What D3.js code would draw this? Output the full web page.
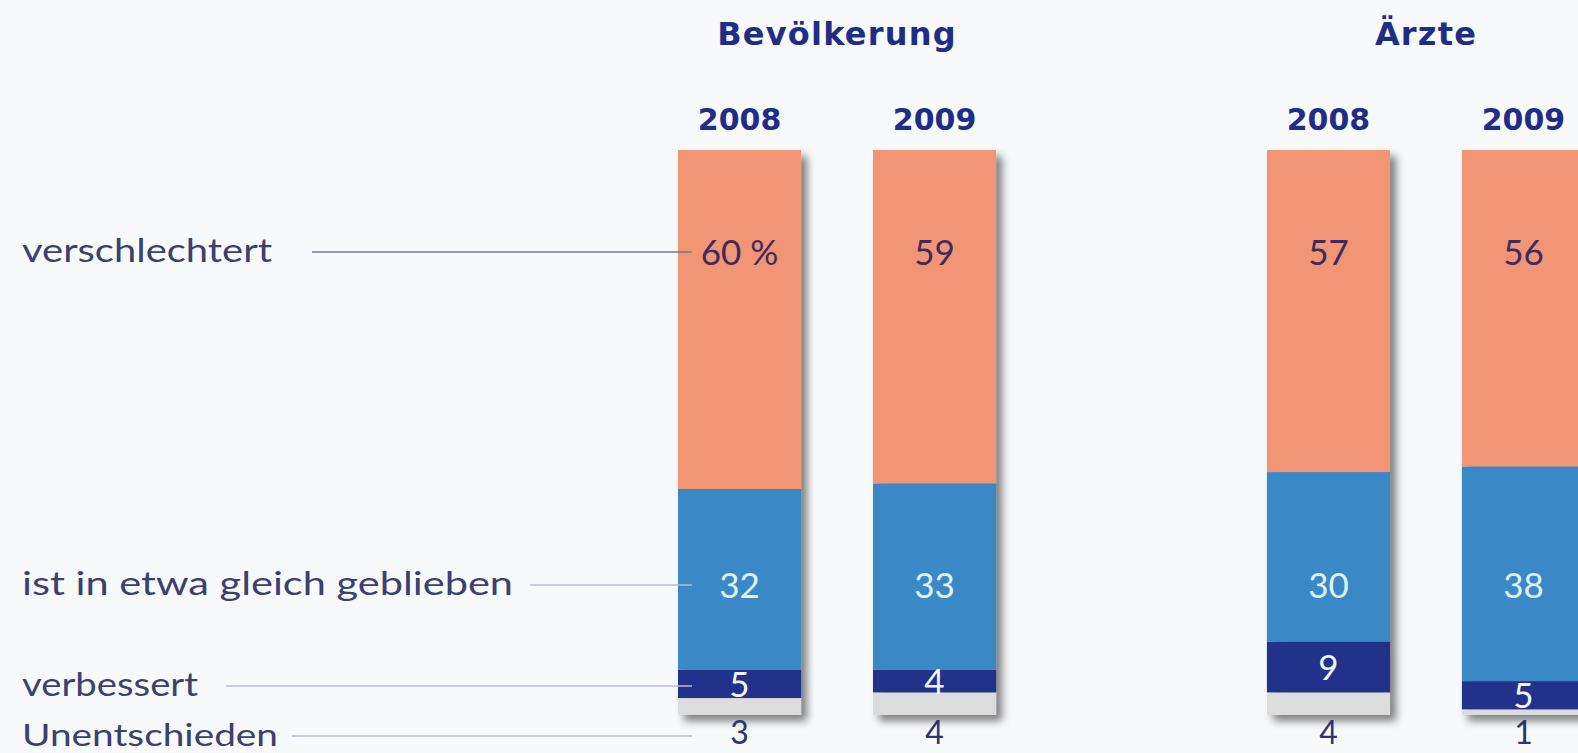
<!DOCTYPE html>
<html>
<head>
<meta charset="utf-8">
<script src="https://cdn.jsdelivr.net/npm/d3@7"></script>
<style>
  html, body { margin: 0; padding: 0; background: #f8f9fb; overflow: hidden; }
  svg { display: block; }
</style>
</head>
<body>
<svg id="chart" width="1578" height="753"></svg>
<script>
// ---- data ----
const groups = ["Bevölkerung", "Ärzte"];
const years = ["2008", "2009"];
const categories = ["verschlechtert", "ist in etwa gleich geblieben", "verbessert", "Unentschieden"];
const verschlechtert = [60, 59, 57, 56];
const gleichGeblieben = [32, 33, 30, 38];
const verbessert = [5, 4, 9, 5];
const unentschieden = [3, 4, 4, 1];
const valueLabelsFirst = ["60 %", null, null, null]; // first bar's top label carries the unit

// ---- build table ----
const bars = [];
let k = 0;
groups.forEach(g => years.forEach(y => {
  bars.push({ group: g, year: y, idx: k,
    verschlechtert: verschlechtert[k], gleich: gleichGeblieben[k],
    verbessert: verbessert[k], unentschieden: unentschieden[k] });
  k++;
}));

const W = 1578, H = 753;
const svg = d3.select("#chart");
svg.append("rect").attr("width", W).attr("height", H).attr("fill", "#f8f9fb");

const defs = svg.append("defs");
const f = defs.append("filter").attr("id", "shadow")
  .attr("x", "-20%").attr("y", "-10%").attr("width", "150%").attr("height", "130%");
f.append("feGaussianBlur").attr("in", "SourceAlpha").attr("stdDeviation", 4).attr("result", "b");
f.append("feOffset").attr("in", "b").attr("dx", 6).attr("dy", 6).attr("result", "o");
f.append("feComponentTransfer").attr("in", "o").attr("result", "oa")
  .append("feFuncA").attr("type", "linear").attr("slope", 0.5);
const fm = f.append("feMerge");
fm.append("feMergeNode").attr("in", "oa");
fm.append("feMergeNode").attr("in", "SourceGraphic");

// ---- scales ----
const xGroup = d3.scaleBand().domain(groups).range([678, 1585]).paddingInner(0.46).paddingOuter(0);
const xYear = d3.scaleBand().domain(years).range([0, xGroup.bandwidth()]).paddingInner(0.369).paddingOuter(0);
const y = d3.scaleLinear().domain([0, 100]).range([715, 150]);

const keys = ["unentschieden", "verbessert", "gleich", "verschlechtert"];
const colors = { verschlechtert: "#f19575", gleich: "#3a88c6", verbessert: "#22338a", unentschieden: "#dcdcdc" };
const stack = d3.stack().keys(keys)(bars);

const barX = d => xGroup(d.group) + xYear(d.year);
const bw = xYear.bandwidth();

// bars
const gBars = svg.append("g");
bars.forEach((b, i) => {
  const g = gBars.append("g").attr("filter", "url(#shadow)");
  stack.forEach(layer => {
    const s = layer[i];
    g.append("rect")
      .attr("x", barX(b)).attr("width", bw)
      .attr("y", y(s[1])).attr("height", y(s[0]) - y(s[1]))
      .attr("fill", colors[layer.key]);
  });
});

// row positions for labels (layout)
const rowY = [252, 585, 686, 736];
const lineStart = [312, 530, 226, 292];
const lineColor = ["#737892", "#b9bdcc", "#b9bdcc", "#b9bdcc"];

const fontLight = "'Lato', 'Open Sans', sans-serif";
const fontBold = "'DejaVu Sans', 'Lato', sans-serif";

// left category labels
const labelWidths = [250, 491, 176, 256];
categories.forEach((c, i) => {
  svg.append("text")
    .attr("x", 22).attr("y", rowY[i] + 10)
    .attr("font-family", fontLight).attr("font-weight", 400)
    .attr("font-size", i === 3 ? 30 : 32).attr("fill", "#3b406e")
    .attr("textLength", labelWidths[i]).attr("lengthAdjust", "spacingAndGlyphs")
    .text(c);
  svg.append("line")
    .attr("x1", lineStart[i]).attr("x2", 692)
    .attr("y1", rowY[i]).attr("y2", rowY[i])
    .attr("stroke", lineColor[i]).attr("stroke-width", 1.5);
});

// group titles
groups.forEach(g => {
  svg.append("text")
    .attr("x", xGroup(g) + xGroup.bandwidth() / 2).attr("y", 45)
    .attr("text-anchor", "middle")
    .attr("font-family", fontBold).attr("font-weight", 700)
    .attr("font-size", 32).attr("letter-spacing", 1.2).attr("fill", "#1f2d86")
    .text(g);
});

// year labels
bars.forEach(b => {
  svg.append("text")
    .attr("x", barX(b) + bw / 2).attr("y", 130)
    .attr("text-anchor", "middle")
    .attr("font-family", fontBold).attr("font-weight", 700)
    .attr("font-size", 30).attr("fill", "#1f2d86")
    .text(b.year);
});

// value labels
const valSize = 35;
bars.forEach((b, i) => {
  const cx = barX(b) + bw / 2;
  // verschlechtert
  svg.append("text").attr("x", cx).attr("y", rowY[0] + 13)
    .attr("text-anchor", "middle").attr("font-family", fontLight).attr("font-weight", 400)
    .attr("font-size", valSize).attr("fill", "#3d2b5e")
    .text(valueLabelsFirst[i] || b.verschlechtert);
  // gleich
  svg.append("text").attr("x", cx).attr("y", rowY[1] + 13)
    .attr("text-anchor", "middle").attr("font-family", fontLight).attr("font-weight", 400)
    .attr("font-size", valSize).attr("fill", "#dff3ff")
    .text(b.gleich);
  // verbessert: centered in segment
  const s = stack[1][i];
  svg.append("text").attr("x", cx).attr("y", (y(s[0]) + y(s[1])) / 2 + 13)
    .attr("text-anchor", "middle").attr("font-family", fontLight).attr("font-weight", 400)
    .attr("font-size", valSize).attr("fill", "#f2f5ff")
    .text(b.verbessert);
  // unentschieden below bar
  svg.append("text").attr("x", cx).attr("y", 744)
    .attr("text-anchor", "middle").attr("font-family", fontLight).attr("font-weight", 400)
    .attr("font-size", 32).attr("fill", "#2d3372")
    .text(b.unentschieden);
});
</script>
</body>
</html>
